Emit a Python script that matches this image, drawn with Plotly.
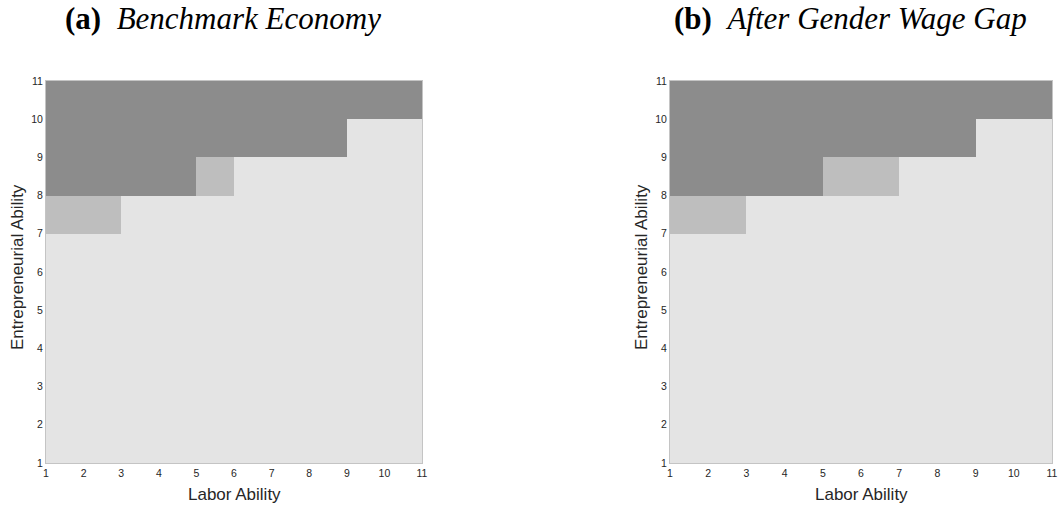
import plotly.graph_objects as go

# Cell centers of the ability grid (1..11), 10x10 cells
x_centers = [1.5, 2.5, 3.5, 4.5, 5.5, 6.5, 7.5, 8.5, 9.5, 10.5]
y_centers = [1.5, 2.5, 3.5, 4.5, 5.5, 6.5, 7.5, 8.5, 9.5, 10.5]
tick_vals = [1, 2, 3, 4, 5, 6, 7, 8, 9, 10, 11]

# Occupation choice: 0 = worker (light), 1 = intermediate (medium), 2 = entrepreneur (dark)
# rows from y=1..2 (bottom) to y=10..11 (top)
bench = [
    [0, 0, 0, 0, 0, 0, 0, 0, 0, 0],
    [0, 0, 0, 0, 0, 0, 0, 0, 0, 0],
    [0, 0, 0, 0, 0, 0, 0, 0, 0, 0],
    [0, 0, 0, 0, 0, 0, 0, 0, 0, 0],
    [0, 0, 0, 0, 0, 0, 0, 0, 0, 0],
    [0, 0, 0, 0, 0, 0, 0, 0, 0, 0],
    [1, 1, 0, 0, 0, 0, 0, 0, 0, 0],
    [2, 2, 2, 2, 1, 0, 0, 0, 0, 0],
    [2, 2, 2, 2, 2, 2, 2, 2, 0, 0],
    [2, 2, 2, 2, 2, 2, 2, 2, 2, 2],
]
gap = [
    [0, 0, 0, 0, 0, 0, 0, 0, 0, 0],
    [0, 0, 0, 0, 0, 0, 0, 0, 0, 0],
    [0, 0, 0, 0, 0, 0, 0, 0, 0, 0],
    [0, 0, 0, 0, 0, 0, 0, 0, 0, 0],
    [0, 0, 0, 0, 0, 0, 0, 0, 0, 0],
    [0, 0, 0, 0, 0, 0, 0, 0, 0, 0],
    [1, 1, 0, 0, 0, 0, 0, 0, 0, 0],
    [2, 2, 2, 2, 1, 1, 0, 0, 0, 0],
    [2, 2, 2, 2, 2, 2, 2, 2, 0, 0],
    [2, 2, 2, 2, 2, 2, 2, 2, 2, 2],
]
titles = ["<b>(a)</b>  <i>Benchmark Economy</i>", "<b>(b)</b>  <i>After Gender Wage Gap</i>"]
x_title = "Labor Ability"
y_title = "Entrepreneurial Ability"

W, H = 1059, 508
cscale = [[0, "#e4e4e4"], [0.3333, "#e4e4e4"], [0.3333, "#bebebe"], [0.6667, "#bebebe"],
          [0.6667, "#8c8c8c"], [1, "#8c8c8c"]]

fig = go.Figure()
for i, z in enumerate([bench, gap]):
    sfx = "" if i == 0 else "2"
    fig.add_trace(go.Heatmap(x=x_centers, y=y_centers, z=z, zmin=0, zmax=2,
                             colorscale=cscale, showscale=False,
                             xaxis="x" + sfx, yaxis="y" + sfx, hoverinfo="skip"))

px_x = [[46, 422], [670, 1052]]
doms = [[a / W, b / W] for a, b in px_x]
ydom = [1 - 463 / H, 1 - 81 / H]
title_cx = [223, 850]
tickfont = dict(family="Liberation Sans, Arial, sans-serif", size=10.5, color="#262626")
titlefont = dict(family="Liberation Sans, Arial, sans-serif", size=17, color="#262626")
for i in range(2):
    sfx = "" if i == 0 else "2"
    fig.update_layout(**{
        "xaxis" + sfx: dict(domain=doms[i], range=[1, 11], tickvals=tick_vals,
                            showgrid=False, zeroline=False, showline=True, mirror=True,
                            linecolor="#c4c4c4", linewidth=1, ticks="", tickfont=tickfont,
                            automargin=False, anchor="y" + sfx),
        "yaxis" + sfx: dict(domain=ydom, range=[1, 11], tickvals=tick_vals,
                            showgrid=False, zeroline=False, showline=True, mirror=True,
                            linecolor="#c4c4c4", linewidth=1, ticks="", tickfont=tickfont,
                            automargin=False, anchor="x" + sfx),
    })
    # panel title
    fig.add_annotation(text=titles[i], xref="paper", yref="paper",
                       x=title_cx[i] / W, y=1 - 18 / H, xanchor="center", yanchor="middle",
                       showarrow=False,
                       font=dict(family="Liberation Serif, DejaVu Serif, serif", size=31, color="#000"))
    # x axis title
    fig.add_annotation(text=x_title, xref="paper", yref="paper",
                       x=(px_x[i][0] + px_x[i][1]) / 2 / W, y=1 - 494 / H,
                       xanchor="center", yanchor="middle", showarrow=False, font=titlefont)
    # y axis title
    fig.add_annotation(text=y_title, xref="paper", yref="paper",
                       x=(px_x[i][0] - 29) / W, y=1 - 267 / H, textangle=-90,
                       xanchor="center", yanchor="middle", showarrow=False, font=titlefont)

fig.update_layout(width=W, height=H, margin=dict(l=0, r=0, t=0, b=0),
                  paper_bgcolor="white", plot_bgcolor="white", showlegend=False)
fig.write_html("out.html", config={"displayModeBar": False},
               post_script="document.body.style.margin='0';document.body.style.overflow='hidden';")
